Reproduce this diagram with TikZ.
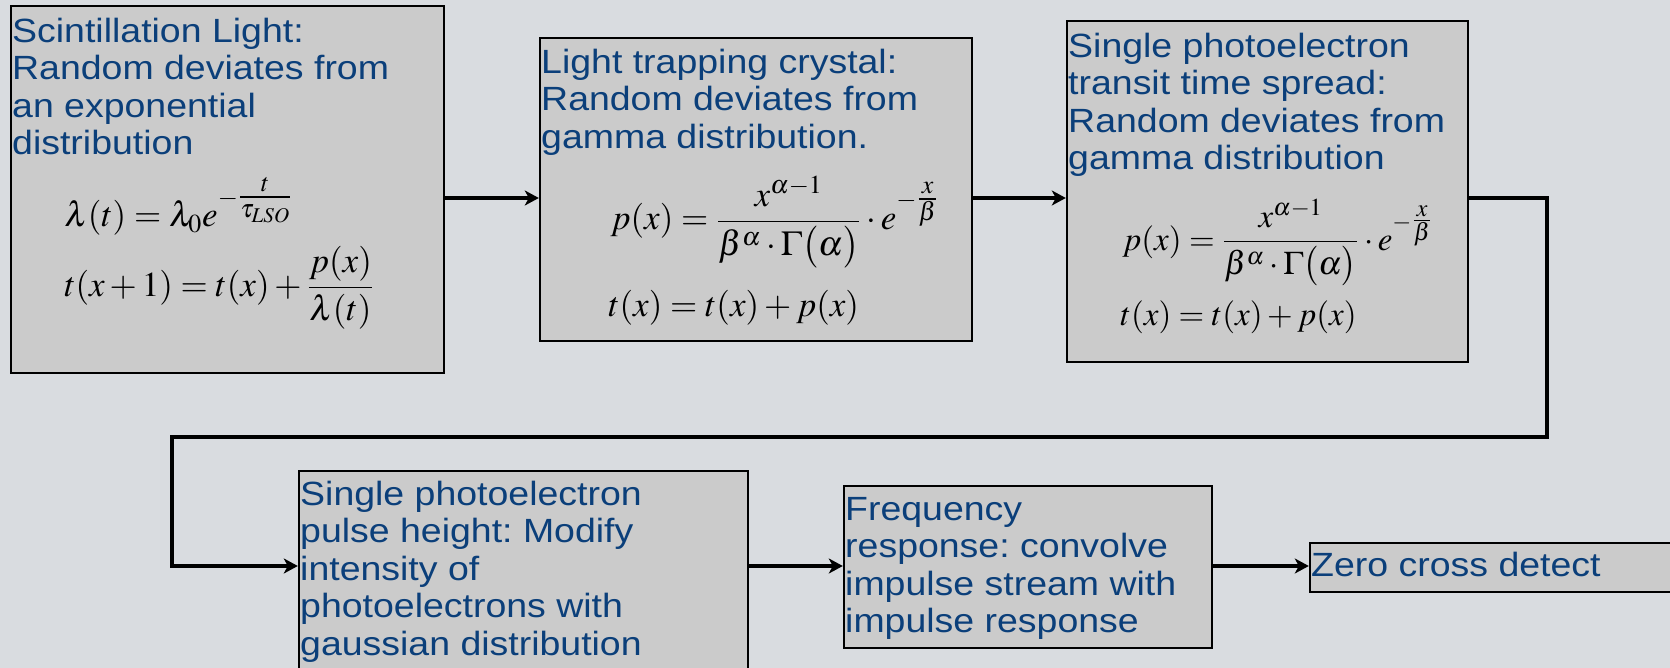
\documentclass[tikz,border=0pt]{standalone}
\usepackage{amsmath}
\usepackage{mathptmx}
\usepackage[no-math]{fontspec}
\setmainfont{Liberation Sans}[FakeStretch=1.115]
\usepackage{tikz}
\usetikzlibrary{positioning, arrows.meta, fit}
\definecolor{slate}{HTML}{D9DCE0}
\definecolor{boxgray}{HTML}{CBCBCB}
\definecolor{navy}{HTML}{0B3F7A}
\frenchspacing

\begin{document}
\begin{tikzpicture}[x=0.5pt, y=-0.5pt,
    blk/.style={draw=black, fill=boxgray, line width=1.2pt, inner sep=0pt},
    lbl/.style={inner sep=0pt, text=navy, align=left,
                font=\fontsize{16.8}{18.7}\selectfont},
    eq/.style={anchor=base west, inner sep=0pt, font=\fontsize{17.5}{21}\selectfont},
    eqs/.style={eq, font=\fontsize{16.5}{20}\selectfont},
    flow/.style={line width=2.3pt, -{Stealth[length=7pt, width=7.5pt, inset=2pt]}}]
  \path[use as bounding box, fill=slate] (0,0) rectangle (1670,668);
  % top row
  \node[blk, fit={(11,6) (444,373)}] (b1) {};
  \node[blk, fit={(540,38) (972,341)}] (b2) {};
  \node[blk, fit={(1067,21) (1468,362)}] (b3) {};
  % bottom row
  \node[blk, fit={(299,471) (748,700)}] (b4) {};
  \node[blk, fit={(844,486) (1212,648)}] (b5) {};
  \node[blk, fit={(1310,543) (1700,592)}] (b6) {};
  % texts
  \node[lbl, below right=6.5pt and 1pt of b1.north west] (t1)
    {Scintillation Light:\\Random deviates from\\an exponential\\distribution};
  \node[lbl, below right=6pt and 1pt of b2.north west] (t2)
    {Light trapping crystal:\\Random deviates from\\gamma distribution.};
  \node[lbl, below right=6.5pt and 1pt of b3.north west] (t3)
    {Single photoelectron\\transit time spread:\\Random deviates from\\gamma distribution};
  \node[lbl, below right=5.5pt and 1pt of b4.north west] (t4)
    {Single photoelectron\\pulse height: Modify\\intensity of\\photoelectrons with\\gaussian distribution};
  \node[lbl, below right=6pt and 1pt of b5.north west] (t5)
    {Frequency\\response: convolve\\impulse stream with\\impulse response};
  \node[lbl, below right=5pt and 1pt of b6.north west] (t6) {Zero cross detect};
  % formulas
  \node[eq] (e1a) at (64,227) {$\lambda(t)=\lambda_0 e^{-\genfrac{}{}{}{1}{t}{\tau_{LSO}}}$};
  \node[eq] (e1b) at (64,296) {$\displaystyle t(x+1)=t(x)+\frac{p(x)}{\lambda(t)}$};
  \node[eq] (e2a) at (610,230)
    {$\displaystyle p(x)=\frac{x^{\alpha-1}}{\beta^{\alpha}\cdot\Gamma\bigl(\alpha\bigr)}\cdot e^{-\genfrac{}{}{}{1}{x}{\beta}}$};
  \node[eq] (e2b) at (608,316) {$t(x)=t(x)+p(x)$};
  \node[eqs] (e3a) at (1122,250)
    {$\displaystyle p(x)=\frac{x^{\alpha-1}}{\beta^{\alpha}\cdot\Gamma\bigl(\alpha\bigr)}\cdot e^{-\genfrac{}{}{}{1}{x}{\beta}}$};
  \node[eqs] (e3b) at (1120,325) {$t(x)=t(x)+p(x)$};
  % connectors
  \coordinate (toprow) at (0,198);
  \coordinate (botrow) at (0,566);
  \coordinate (rt) at (1547,437);
  \coordinate (lt) at (172,437);
  \draw[flow] (b1.east |- toprow) -- (b2.west |- toprow);
  \draw[flow] (b2.east |- toprow) -- (b3.west |- toprow);
  \draw[flow] (b3.east |- toprow) -| (rt) -- (lt) |- (b4.west |- botrow);
  \draw[flow] (b4.east |- botrow) -- (b5.west |- botrow);
  \draw[flow] (b5.east |- botrow) -- (b6.west |- botrow);
\end{tikzpicture}
\end{document}
